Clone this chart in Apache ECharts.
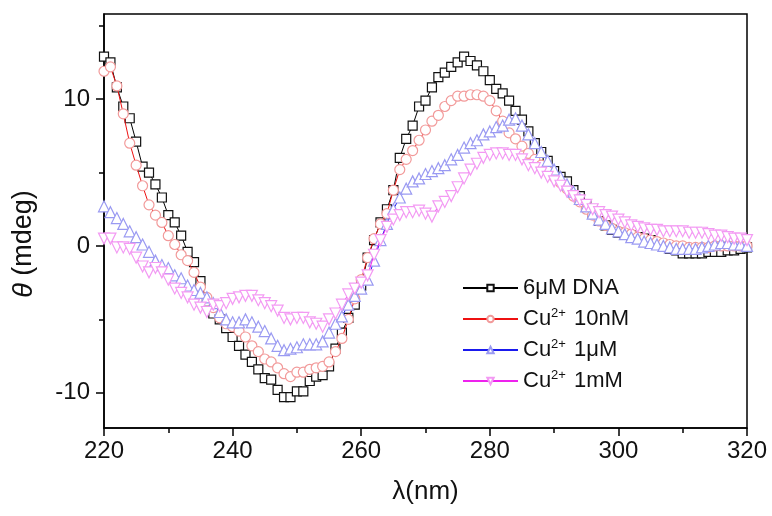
<!DOCTYPE html>
<html>
<head>
<meta charset="utf-8">
<script src="https://cdn.jsdelivr.net/npm/echarts@6/dist/echarts.min.js"></script>
<style>html,body{margin:0;padding:0;background:#fff}#c{width:772px;height:516px}</style>
</head>
<body>
<div id="c"></div>
<script>
const wavelengths = [];
for (let w = 220; w <= 320; w++) wavelengths.push(w);

const seriesNames = ['6μM DNA', 'Cu2+ 10nM', 'Cu2+ 1μM', 'Cu2+ 1mM'];

const dna6uM = [
12.9,12.5,10.8,9.5,8.7,7.1,5.4,5.0,4.2,3.3,
2.1,1.6,0.7,-0.4,-1.1,-2.4,-3.8,-4.6,-5.0,-5.6,
-6.2,-6.8,-7.4,-7.9,-8.4,-9.0,-9.1,-9.8,-10.3,-10.3,
-9.9,-9.9,-9.2,-8.9,-8.8,-8.2,-7.0,-5.9,-4.9,-4.0,
-2.7,-0.8,0.4,1.6,2.5,3.8,6.0,7.3,8.2,9.5,
9.9,10.8,11.5,11.8,12.2,12.5,12.9,12.6,12.3,11.9,
11.3,10.7,10.4,9.9,9.2,8.6,7.8,7.0,6.4,5.8,
5.1,4.7,4.4,3.8,3.4,2.8,2.2,1.7,1.4,1.1,
0.9,0.8,0.7,0.6,0.5,0.4,0.2,0.0,-0.2,-0.3,
-0.5,-0.5,-0.5,-0.5,-0.4,-0.4,-0.4,-0.3,-0.3,-0.2,
-0.1];

const cu10nM = [
11.9,12.2,10.9,9.0,7.0,5.5,4.1,2.8,2.1,1.6,
0.7,0.1,-0.6,-1.0,-1.8,-2.8,-3.5,-4.2,-4.9,-5.3,
-5.5,-5.8,-6.2,-6.8,-7.2,-7.7,-7.9,-8.3,-8.7,-8.9,
-8.6,-8.6,-8.4,-8.3,-8.2,-7.9,-7.2,-6.3,-5.0,-3.6,
-2.3,-0.8,0.5,1.5,2.2,3.8,5.2,5.9,6.5,7.2,
7.9,8.5,8.9,9.5,9.9,10.2,10.2,10.3,10.3,10.2,
9.9,9.2,8.5,7.7,7.3,6.8,6.3,5.9,5.5,5.1,
4.7,4.3,3.9,3.4,3.0,2.5,2.1,1.7,1.4,1.2,
1.0,0.9,0.8,0.6,0.5,0.4,0.3,0.2,0.1,0.0,
0.0,-0.1,-0.1,-0.1,-0.1,0.0,0.0,0.0,0.0,0.0,
0.0];

const cu1uM = [
2.7,2.3,1.9,1.5,1.0,0.6,0.1,-0.4,-1.0,-1.3,
-1.5,-2.0,-2.2,-2.7,-3.0,-3.2,-3.5,-3.9,-4.5,-5.0,
-5.2,-5.2,-5.0,-5.2,-5.5,-5.8,-6.3,-6.8,-7.1,-7.0,
-6.9,-6.7,-6.7,-6.7,-6.5,-5.9,-5.3,-4.8,-4.0,-3.4,
-2.9,-2.3,-1.0,0.4,1.5,2.5,3.3,3.9,4.4,4.6,
4.9,5.1,5.3,5.5,5.9,6.2,6.7,7.0,7.2,7.6,
7.8,8.1,8.2,8.6,8.7,8.2,7.6,7.0,6.4,5.8,
5.2,4.7,4.2,3.7,3.2,2.7,2.2,1.8,1.5,1.2,
1.0,0.8,0.6,0.5,0.3,0.2,0.1,0.0,-0.1,-0.2,
-0.2,-0.2,-0.2,-0.1,0.0,0.1,0.2,0.2,0.1,0.1,
0.0];

const cu1mM = [
0.5,0.5,-0.1,-0.1,-0.2,-0.8,-1.4,-1.8,-1.5,-1.8,
-2.3,-2.9,-3.2,-3.5,-4.0,-4.2,-4.5,-4.0,-4.1,-3.9,
-3.6,-3.5,-3.4,-3.4,-3.7,-3.9,-4.1,-4.4,-4.9,-5.0,
-4.9,-4.9,-5.2,-5.3,-5.5,-5.0,-4.6,-4.0,-3.3,-2.9,
-2.5,-2.0,-0.6,0.4,1.3,1.8,2.1,2.3,2.3,2.4,
2.2,2.0,2.7,3.0,3.4,4.0,4.6,5.2,5.6,6.0,
6.2,6.3,6.3,6.2,6.2,5.9,5.5,5.3,5.0,4.7,
4.4,4.1,3.7,3.4,3.1,2.8,2.5,2.3,2.1,2.0,
1.8,1.6,1.4,1.3,1.2,1.1,1.1,1.0,1.0,1.0,
1.0,0.9,0.9,0.9,0.8,0.7,0.7,0.6,0.5,0.5,
0.4];

const xLabelTicks = [220, 240, 260, 280, 300, 320];
const yMajorTicks = [-10, 0, 10];
const yMinorTicks = [-5, 5, 15];

const pairs = (ys) => wavelengths.map((w, i) => [w, ys[i]]);

const FONT = 'Liberation Sans, Arial, sans-serif';

const styles = [
  {line: '#000000', mark: '#111111', symbol: 'rect', size: 9},
  {line: '#ee1111', mark: '#f29a9a', symbol: 'circle', size: 10},
  {line: '#1a1aee', mark: '#9a9af2', symbol: 'triangle', size: 11},
  {line: '#ee22ee', mark: '#f39af3', symbol: 'path://M0,0 L10,0 L5,9 Z', size: 11}
];
const allData = [dna6uM, cu10nM, cu1uM, cu1mM];

const chart = echarts.init(document.getElementById('c'), null, {renderer: 'canvas'});
chart.setOption({
  animation: false,
  backgroundColor: '#ffffff',
  grid: {left: 104, right: 25, top: 14, bottom: 88, show: true, borderColor: '#000', borderWidth: 1.5, backgroundColor: 'transparent'},
  legend: {
    orient: 'vertical',
    left: 457, top: 271,
    itemWidth: 55, itemHeight: 8, itemGap: 7,
    textStyle: {
      fontFamily: FONT, fontSize: 22, color: '#111', lineHeight: 24,
      rich: {
        sup: {fontFamily: FONT, fontSize: 13, color: '#111', verticalAlign: 'top', lineHeight: 14, padding: [0, 2, 10, 0]},
        n: {fontFamily: FONT, fontSize: 22, color: '#111', lineHeight: 24}
      }
    },
    formatter: function (name) {
      if (name.indexOf('Cu2+') === 0) {
        return '{n|Cu}{sup|2+}{n|' + name.slice(4) + '}';
      }
      return name;
    },
    data: seriesNames
  },
  xAxis: {
    type: 'value', min: 220, max: 320, interval: 20,
    name: 'λ(nm)', nameLocation: 'middle', nameGap: 51,
    nameTextStyle: {fontFamily: FONT, fontSize: 26, color: '#111'},
    axisLine: {show: true, onZero: false, lineStyle: {color: '#000', width: 1.5}},
    axisTick: {show: true, inside: false, length: 8, lineStyle: {color: '#000', width: 1.5}},
    minorTick: {show: true, splitNumber: 2, length: 5, lineStyle: {color: '#000', width: 1.5}},
    axisLabel: {fontFamily: FONT, fontSize: 24, color: '#111', margin: 11, customValues: xLabelTicks},
    splitLine: {show: false}, minorSplitLine: {show: false}
  },
  yAxis: [{
    type: 'value', min: -12.4, max: 15.8,
    axisLine: {show: true, onZero: false, lineStyle: {color: '#000', width: 1.5}},
    axisTick: {show: true, inside: false, length: 8, customValues: yMajorTicks, lineStyle: {color: '#000', width: 1.5}},
    axisLabel: {fontFamily: FONT, fontSize: 24, color: '#111', margin: 14, customValues: yMajorTicks},
    splitLine: {show: false}
  }, {
    type: 'value', min: -12.4, max: 15.8, position: 'left',
    axisLine: {show: false},
    axisTick: {show: true, inside: false, length: 5, customValues: yMinorTicks, lineStyle: {color: '#000', width: 1.5}},
    axisLabel: {show: false},
    splitLine: {show: false}
  }],
  graphic: [{
    type: 'text', x: 24, y: 244, rotation: Math.PI / 2,
    style: {
      text: '{i|θ} (mdeg)', fontFamily: FONT, fontSize: 27, fill: '#111',
      align: 'center', verticalAlign: 'middle',
      rich: {i: {fontStyle: 'italic', fontFamily: FONT, fontSize: 27, fill: '#111'}}
    }
  }],
  series: seriesNames.map((name, k) => ({
    name: name, type: 'line', yAxisIndex: 0,
    data: pairs(allData[k]),
    symbol: styles[k].symbol, symbolSize: styles[k].size, showSymbol: true,
    lineStyle: {color: styles[k].line, width: 1},
    itemStyle: {color: '#ffffff', borderColor: styles[k].mark, borderWidth: 1.2},
    z: 2 + k
  }))
});
</script>
</body>
</html>
